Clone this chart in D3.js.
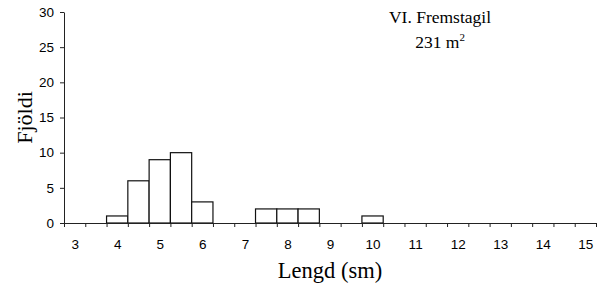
<!DOCTYPE html>
<html>
<head>
<meta charset="utf-8">
<script src="https://cdn.jsdelivr.net/npm/d3@7"></script>
<style>
  body { margin: 0; background: #fff; }
  svg { font-family: "Liberation Serif", "Times New Roman", serif; }
  .axis path, .axis line { stroke: #222; }
  .axis text { font-size: 13.5px; fill: #000; }
</style>
</head>
<body>
<svg id="chart" width="607" height="291"></svg>
<script>
// bin midpoints (cm), 0.5 cm bins
const bins = [3, 3.5, 4, 4.5, 5, 5.5, 6, 6.5, 7, 7.5, 8, 8.5, 9, 9.5, 10,
              10.5, 11, 11.5, 12, 12.5, 13, 13.5, 14, 14.5, 15];
const counts = [0, 0, 1, 6, 9, 10, 3, 0, 0, 2, 2, 2, 0, 0, 1,
                0, 0, 0, 0, 0, 0, 0, 0, 0, 0];
const xLabels = [3, 4, 5, 6, 7, 8, 9, 10, 11, 12, 13, 14, 15];
const yTicks = [0, 5, 10, 15, 20, 25, 30];

const svg = d3.select("#chart"),
      margin = {top: 12, right: 11, bottom: 68, left: 64},
      width = +svg.attr("width") - margin.left - margin.right,
      height = +svg.attr("height") - margin.top - margin.bottom;

const g = svg.append("g")
  .attr("transform", `translate(${margin.left},${margin.top})`);

const x = d3.scaleLinear().domain([2.75, 15.25]).range([0, width]);
const y = d3.scaleLinear().domain([0, 30]).range([height, 0]);

// bars (only non-zero bins)
const data = bins.map((b, i) => ({bin: b, n: counts[i]})).filter(d => d.n > 0);
g.selectAll("rect.bar")
  .data(data)
  .enter().append("rect")
    .attr("class", "bar")
    .attr("x", d => x(d.bin - 0.25))
    .attr("y", d => y(d.n))
    .attr("width", d => x(d.bin + 0.25) - x(d.bin - 0.25))
    .attr("height", d => y(0) - y(d.n))
    .attr("fill", "#fff")
    .attr("stroke", "#111")
    .attr("stroke-width", 1.2);

// x axis: ticks at bin edges
const edges = bins.map(b => b - 0.25).concat([15.25]);
g.append("g")
  .attr("class", "axis")
  .attr("transform", `translate(0,${height})`)
  .call(d3.axisBottom(x).tickValues(edges).tickSize(4).tickSizeOuter(0).tickFormat(""));

// x labels at whole cm
g.append("g")
  .attr("class", "axis")
  .attr("transform", `translate(0,${height})`)
  .call(d3.axisBottom(x).tickValues(xLabels).tickSize(0).tickPadding(16).tickFormat(d3.format("d")))
  .call(a => a.select(".domain").remove());

// y axis
g.append("g")
  .attr("class", "axis")
  .call(d3.axisLeft(y).tickValues(yTicks).tickSize(4).tickSizeOuter(0).tickPadding(6));

// axis titles
svg.append("text")
  .attr("transform", `translate(32,${margin.top + height / 2}) rotate(-90)`)
  .attr("text-anchor", "middle")
  .style("font-size", "22px")
  .text("Fjöldi");

svg.append("text")
  .attr("x", 330)
  .attr("y", 278)
  .attr("text-anchor", "middle")
  .style("font-size", "22.5px")
  .text("Lengd (sm)");

// site label
svg.append("text")
  .attr("x", 440)
  .attr("y", 23)
  .attr("text-anchor", "middle")
  .style("font-size", "17.5px")
  .text("VI. Fremstagil");

const area = svg.append("text")
  .attr("x", 440)
  .attr("y", 48)
  .attr("text-anchor", "middle")
  .style("font-size", "17.5px");
area.append("tspan").text("231 m");
area.append("tspan").attr("dy", -7).style("font-size", "11px").text("2");
</script>
</body>
</html>
